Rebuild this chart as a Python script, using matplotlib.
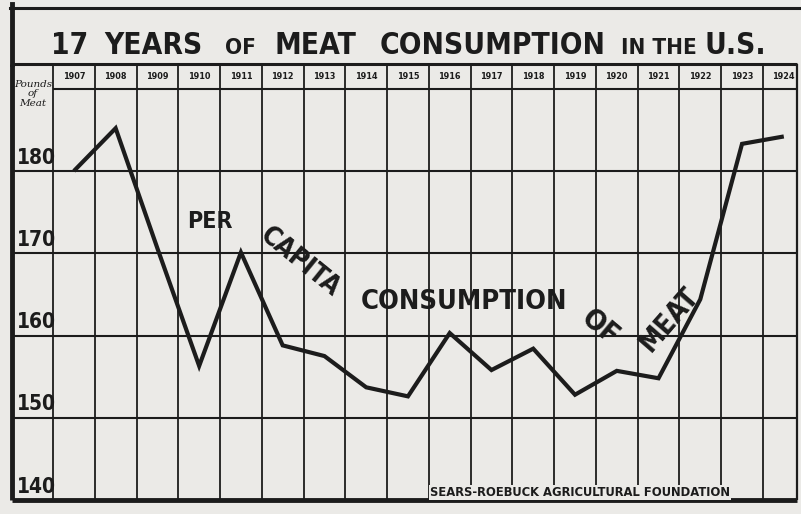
import matplotlib
matplotlib.use("Agg")
import matplotlib.pyplot as plt
from matplotlib import font_manager

# ---------------- data ----------------
years = ["1907", "1908", "1909", "1910", "1911", "1912", "1913", "1914", "1915",
         "1916", "1917", "1918", "1919", "1920", "1921", "1922", "1923", "1924"]
pounds = [180.0, 185.2, 170.6, 156.3, 170.1, 158.8, 157.5, 153.7, 152.6,
          160.3, 155.8, 158.4, 152.8, 155.7, 154.8, 164.4, 183.3, 184.2]
y_ticks = [140, 150, 160, 170, 180]
title_big = ["17", "YEARS", "MEAT", "CONSUMPTION", "U.S."]
title_small = ["OF", "IN THE"]
credit = "SEARS-ROEBUCK AGRICULTURAL FOUNDATION"

# ---------------- style ----------------
W, H = 801, 514
PAPER = "#ebeae7"
INK = "#1c1c1c"

fm = font_manager.fontManager
names = {f.name for f in fm.ttflist}
cond = [f for f in fm.ttflist if f.name == "DejaVu Sans" and "condensed" in str(f.stretch)]
if "Liberation Sans Narrow" in names:
    FONT = dict(family="Liberation Sans Narrow")
elif cond:
    FONT = dict(family="DejaVu Sans", stretch="condensed")
else:
    FONT = dict(family="DejaVu Sans")

fig = plt.figure(figsize=(W / 100, H / 100), dpi=100, facecolor=PAPER)
renderer = fig.canvas.get_renderer()


def fx(x):
    return x / W


def fy(y):
    return 1 - y / H


def fit(t, width_px):
    bb = t.get_window_extent(renderer)
    t.set_fontsize(t.get_fontsize() * width_px / bb.width)
    return t


# ---------------- main grid axes ----------------
CW = 41.76          # column width in px
PX_PER = 8.225      # px per pound
left_px, right_px, top_px, bot_px = 12, 797, 64, 500
X0 = (left_px - 53) / CW - 0.5
X1 = (right_px - 53) / CW - 0.5
YTOP = 140 + (bot_px - top_px) / PX_PER
YHDR = 140 + (bot_px - 89) / PX_PER

ax = fig.add_axes([fx(left_px), 1 - bot_px / H, (right_px - left_px) / W,
                   (bot_px - top_px) / H])
ax.set_xlim(X0, X1)
ax.set_ylim(140, YTOP)
ax.axis("off")
ax.patch.set_alpha(0)

n = len(years)
bounds = [k - 0.5 for k in range(n)]
ax.vlines(bounds, 140, YTOP, color=INK, lw=1.3, clip_on=False)
ax.vlines([X1], 140, YTOP, color=INK, lw=1.6, clip_on=False)
ax.hlines(y_ticks[1:], X0, X1, color=INK, lw=1.5, clip_on=False)
ax.hlines([YHDR], -0.5, X1, color=INK, lw=1.5, clip_on=False)
ax.hlines([YTOP], X0, X1, color=INK, lw=2.2, clip_on=False)
ax.hlines([140], X0, X1, color=INK, lw=3.5, clip_on=False)
ax.vlines([X0], 140, YTOP, color=INK, lw=3.5, clip_on=False)

ax.plot(range(n), pounds, color=INK, lw=3.0, solid_joinstyle="miter",
        solid_capstyle="butt", clip_on=False, zorder=5)

for i, yr in enumerate(years):
    ax.text(i, (YHDR + YTOP) / 2, yr, ha="center", va="center", fontsize=6.5,
            color=INK, fontweight="bold", **FONT)

for v in y_ticks:
    ax.text(X0 + 5 / CW, v + 0.9, str(v), ha="left", va="baseline",
            fontsize=15, color=INK, fontweight="bold", **FONT)

ax.text(X0 + 21 / CW, YHDR - 0.6, "Pounds\nof\nMeat", ha="center", va="center",
        fontsize=7.5, color=INK, family="DejaVu Serif", style="italic",
        linespacing=1.1)

# ---------------- outer frame & title ----------------
fig.add_artist(plt.Line2D([fx(10), fx(801)], [fy(8), fy(8)], color=INK, lw=2.2))
fig.add_artist(plt.Line2D([fx(12), fx(12)], [fy(4), fy(64)], color=INK, lw=3.5))

big_span = [(54, 86), (97, 209), (263, 367), (380, 605), (710, 760)]
probe = fig.text(0, 0, title_big[3], fontsize=20, fontweight="bold", **FONT)
fit(probe, 225)
fs_big = probe.get_fontsize()
probe.remove()
for word, (a, b) in zip(title_big, big_span):
    fig.text(fx((a + b) / 2), fy(54), word, fontsize=fs_big, fontweight="bold",
             ha="center", va="baseline", color=INK, **FONT)

small_span = [(224, 256), (620, 698)]
probe = fig.text(0, 0, title_small[1], fontsize=12, fontweight="bold", **FONT)
fit(probe, 76)
fs_small = probe.get_fontsize()
probe.remove()
for word, (a, b) in zip(title_small, small_span):
    fig.text(fx((a + b) / 2), fy(54), word, fontsize=fs_small, fontweight="bold",
             ha="center", va="baseline", color=INK, **FONT)

# ---------------- annotations along the line ----------------
ann = [("PER", 210, 221, 0, 46), ("CAPITA", 300, 262, -39, 95),
       ("CONSUMPTION", 464, 302, 0, 208), ("OF", 600, 328, -40, 40),
       ("MEAT", 669, 319, 49, 76)]
for s, x, y, rot, w in ann:
    t = fig.text(fx(x), fy(y), s, fontsize=16, fontweight="bold", ha="center",
                 va="center", color=INK, rotation_mode="anchor", **FONT)
    fit(t, w)
    t.set_rotation(rot)

t = fig.text(fx(430), fy(499), credit, fontsize=7, fontweight="bold", ha="left",
             va="bottom", color=INK, **FONT,
             bbox=dict(facecolor=PAPER, edgecolor="none", pad=0.6))
fit(t, 300)

fig.savefig("out.png", dpi=100, facecolor=PAPER)
